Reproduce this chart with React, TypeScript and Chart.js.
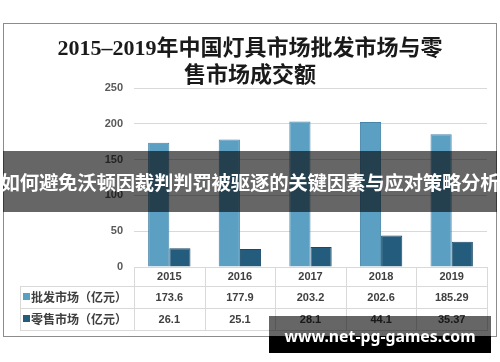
import React, { useEffect, useRef } from "react";
import { Chart, registerables } from "chart.js";

Chart.register(...registerables);

const titleLines = ["2015–2019年中国灯具市场批发市场与零", "售市场成交额"];
const years = ["2015", "2016", "2017", "2018", "2019"];
const seriesNames = ["批发市场（亿元）", "零售市场（亿元）"];
const wholesale = [173.6, 177.9, 203.2, 202.6, 185.29];
const retail = [26.1, 25.1, 28.1, 44.1, 35.37];
const wholesaleLabels = ["173.6", "177.9", "203.2", "202.6", "185.29"];
const retailLabels = ["26.1", "25.1", "28.1", "44.1", "35.37"];
const yTicks = [0, 50, 100, 150, 200, 250];
const bannerText = "如何避免沃顿因裁判判罚被驱逐的关键因素与应对策略分析";
const watermarkText = "www.net-pg-games.com";

const wholesaleColor = "#5ba0c3";
const wholesaleBorder = "#4785a8";
const retailColor = "#245c7e";
const retailBorder = "#1b4a68";

const decorPlugin = {
  id: "decor",
  beforeDraw(chart: any) {
    const ctx = chart.ctx as CanvasRenderingContext2D;
    ctx.save();
    ctx.strokeStyle = "#8c8c8c";
    ctx.lineWidth = 1;
    ctx.strokeRect(3.5, 23.5, 493, 313);
    ctx.fillStyle = "#1a1a1a";
    ctx.font = "bold 22px 'Liberation Serif', 'Noto Sans CJK SC', serif";
    ctx.textAlign = "center";
    ctx.textBaseline = "middle";
    titleLines.forEach((t, i) => ctx.fillText(t, chart.width / 2, 49 + i * 27));
    ctx.restore();
  },
  afterDraw(chart: any) {
    const ctx = chart.ctx as CanvasRenderingContext2D;
    const xs = chart.scales.x;
    const area = chart.chartArea;
    const n = years.length;
    const colW = (area.right - area.left) / n;
    const top = Math.round(area.bottom);
    const r1 = top + 19;
    const r2 = r1 + 22;
    const r3 = r2 + 22;
    const left = 20;
    const L = Math.round(area.left);
    const R = Math.round(area.right);
    ctx.save();
    ctx.strokeStyle = "#d9d9d9";
    ctx.lineWidth = 1;
    const hline = (x1: number, x2: number, y: number) => {
      ctx.beginPath();
      ctx.moveTo(x1, y + 0.5);
      ctx.lineTo(x2, y + 0.5);
      ctx.stroke();
    };
    const vline = (x: number, y1: number, y2: number) => {
      ctx.beginPath();
      ctx.moveTo(Math.round(x) + 0.5, y1);
      ctx.lineTo(Math.round(x) + 0.5, y2);
      ctx.stroke();
    };
    hline(L, R, top);
    hline(left, R, r1);
    hline(left, R, r2);
    hline(left, R, r3);
    vline(left, r1, r3 + 1);
    for (let i = 0; i <= n; i++) vline(area.left + i * colW, top, r3 + 1);

    ctx.fillStyle = "#404040";
    ctx.textAlign = "center";
    ctx.textBaseline = "middle";
    ctx.font = "bold 11px 'Liberation Sans', sans-serif";
    years.forEach((y, i) => {
      const cx = xs.getPixelForValue(i);
      ctx.fillText(y, cx, (top + r1) / 2 + 0.5);
      ctx.fillText(wholesaleLabels[i], cx, (r1 + r2) / 2 + 0.5);
      ctx.fillText(retailLabels[i], cx, (r2 + r3) / 2 + 0.5);
    });

    ctx.textAlign = "left";
    ctx.font = "bold 12px 'Noto Sans CJK SC', sans-serif";
    const rows = [
      { y: (r1 + r2) / 2, c: wholesaleColor },
      { y: (r2 + r3) / 2, c: retailColor },
    ];
    rows.forEach((r, i) => {
      ctx.fillStyle = r.c;
      ctx.fillRect(23, Math.round(r.y) - 4, 7, 7);
      ctx.fillStyle = "#404040";
      ctx.fillText(seriesNames[i], 31, r.y + 0.5);
    });
    ctx.restore();
  },
};

export default function App() {
  const ref = useRef<HTMLCanvasElement | null>(null);

  useEffect(() => {
    if (!ref.current) return;
    const chart = new Chart(ref.current, {
      type: "bar",
      data: {
        labels: years,
        datasets: [
          {
            label: seriesNames[0],
            data: wholesale,
            backgroundColor: wholesaleColor,
            borderColor: wholesaleBorder,
            borderWidth: 1,
            categoryPercentage: 0.6,
            barPercentage: 1,
          },
          {
            label: seriesNames[1],
            data: retail,
            backgroundColor: retailColor,
            borderColor: retailBorder,
            borderWidth: 1,
            categoryPercentage: 0.6,
            barPercentage: 1,
          },
        ],
      },
      options: {
        responsive: false,
        animation: false,
        devicePixelRatio: 1,
        layout: { padding: { top: 88, bottom: 95, right: 13, left: 0 } },
        plugins: {
          legend: { display: false },
          title: { display: false },
          tooltip: { enabled: false },
        },
        scales: {
          x: { display: false },
          y: {
            min: 0,
            max: 250,
            afterBuildTicks: (s: any) => {
              s.ticks = yTicks.map((v) => ({ value: v }));
            },
            afterFit: (s: any) => {
              s.width = 134;
            },
            border: { display: false },
            grid: { color: "#d9d9d9", drawTicks: false, lineWidth: 1 },
            ticks: {
              padding: 11,
              color: "#595959",
              font: { family: "'Liberation Sans', sans-serif", size: 11, weight: "bold" },
            },
          },
        },
      },
      plugins: [decorPlugin],
    } as any);
    return () => chart.destroy();
  }, []);

  return (
    <div style={{ position: "fixed", left: 0, top: 0, width: 500, height: 362, background: "#fff", overflow: "hidden" }}>
      <canvas ref={ref} width={500} height={362} style={{ position: "absolute", left: 0, top: 0, width: 500, height: 362 }} />
      <div
        style={{
          position: "absolute",
          left: 3,
          top: 151,
          width: 494,
          height: 61,
          background: "rgba(0,0,0,0.6)",
        }}
      />
      <div
        style={{
          position: "absolute",
          left: 0,
          top: 151,
          width: 500,
          height: 61,
          lineHeight: "61px",
          textAlign: "center",
          whiteSpace: "nowrap",
          color: "#fff",
          fontFamily: "'Noto Sans CJK SC', sans-serif",
          fontWeight: "bold",
          fontSize: 19.4,
          letterSpacing: -0.2,
        }}
      >
        {bannerText}
      </div>
      <div
        style={{
          position: "absolute",
          left: 269,
          top: 316,
          width: 222,
          height: 37,
          background: "linear-gradient(to bottom, rgba(0,0,0,0.6) 0px, rgba(0,0,0,0.6) 20px, #000 20px, #000 37px)",
          color: "#fff",
          fontFamily: "'Noto Sans', sans-serif",
          fontWeight: "bold",
          fontSize: 15.8,
          lineHeight: "37px",
          textAlign: "center",
          whiteSpace: "nowrap",
          paddingTop: 2,
          boxSizing: "border-box",
        }}
      >
        {watermarkText}
      </div>
    </div>
  );
}
